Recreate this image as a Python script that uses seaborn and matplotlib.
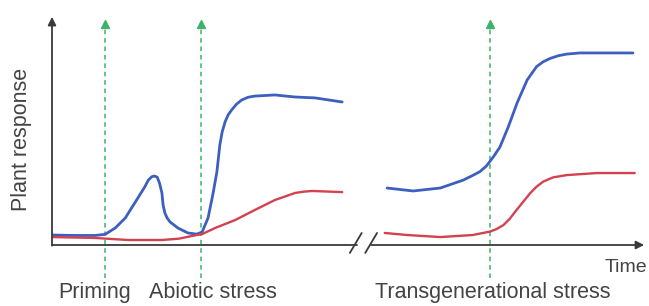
import matplotlib
matplotlib.use('Agg')
import matplotlib.pyplot as plt
import seaborn as sns
import pandas as pd

# Stage 1: priming + abiotic stress (time 0-50)
t1_blue = [0, 3.9, 7.3, 9.0, 10.7, 12.4, 14.0, 15.7, 16.3, 16.9, 17.3, 17.8, 18.2, 18.6, 18.8, 19.1, 19.5,
           20.0, 21.3, 23.0, 24.5, 25.4, 26.4, 27.2, 27.9, 28.4, 28.8, 29.3, 29.8, 30.4, 31.2, 32.1, 33.2,
           34.3, 37.7, 41.1, 44.5, 49.1]
r1_blue = [0.44, 0.42, 0.42, 0.47, 0.75, 1.19, 1.85, 2.56, 2.86, 3.01, 3.04, 2.99, 2.72, 2.29, 1.76, 1.41, 1.18,
           1.01, 0.75, 0.53, 0.48, 0.57, 1.19, 2.20, 3.22, 4.41, 4.99, 5.43, 5.73, 5.95, 6.20, 6.39, 6.51,
           6.56, 6.61, 6.52, 6.48, 6.30]
t1_red = [0, 7.3, 12.9, 18.6, 21.5, 23.7, 25.4, 27.6, 31.0, 34.3, 37.7, 41.1, 42.6, 44.0, 49.1]
r1_red = [0.35, 0.31, 0.22, 0.22, 0.28, 0.40, 0.48, 0.75, 1.10, 1.54, 1.98, 2.29, 2.35, 2.38, 2.33]

# Stage 2: transgenerational stress (time 56-99)
t2_blue = [56.7, 61.1, 65.7, 69.6, 71.3, 72.4, 73.5, 74.7, 75.8, 77.2, 78.7, 80.4, 82.0, 83.1, 84.3, 85.7,
           87.1, 89.3, 92.2, 98.3]
r2_blue = [2.51, 2.38, 2.51, 2.86, 3.08, 3.23, 3.48, 3.89, 4.32, 5.20, 6.26, 7.27, 7.86, 8.07, 8.22, 8.34,
           8.41, 8.46, 8.46, 8.46]
t2_red = [56.3, 60.1, 65.7, 71.2, 74.1, 75.2, 76.4, 77.5, 78.6, 80.9, 82.0, 83.1, 84.8, 87.1, 92.2, 98.6]
r2_red = [0.53, 0.44, 0.35, 0.44, 0.59, 0.70, 0.88, 1.17, 1.54, 2.28, 2.57, 2.79, 2.98, 3.08, 3.17, 3.17]

# stress events
event_times = [9.0, 25.2, 74.1]

BLUE = '#3d5fbf'
RED = '#d2424f'
GREEN = '#3cb36b'
DARK = '#3a3a3a'
TEXT = '#444444'


def main():
    sns.set_theme(style='white')
    plt.rcParams['font.family'] = ['Liberation Sans', 'DejaVu Sans']

    fig = plt.figure(figsize=(6.49, 3.06), dpi=100)
    ax = fig.add_axes([52 / 649, 61 / 306, 591 / 649, 227 / 306])
    ax.set_xlim(0, 100)
    ax.set_ylim(0, 10)
    ax.axis('off')

    curves = [
        (t1_blue, r1_blue, BLUE, 2.0),
        (t1_red, r1_red, RED, 1.7),
        (t2_blue, r2_blue, BLUE, 2.0),
        (t2_red, r2_red, RED, 1.7),
    ]
    for t, r, c, lw in curves:
        df = pd.DataFrame({'time': t, 'response': r})
        sns.lineplot(data=df, x='time', y='response', color=c, lw=lw,
                     estimator=None, ax=ax, solid_capstyle='round',
                     solid_joinstyle='round')

    # stress arrows
    for t in event_times:
        ax.plot([t, t], [-1.45, 9.7], color=GREEN, lw=1.1, ls=(0, (3, 2.5)),
                clip_on=False, zorder=1)
        ax.plot([t], [9.75], marker='^', color=GREEN, ms=6, clip_on=False,
                zorder=1)

    # axes with arrows
    ax.annotate('', xy=(0, 10.05), xytext=(0, -0.03),
                arrowprops=dict(arrowstyle='-|>', color=DARK, lw=1.3,
                                mutation_scale=12, shrinkA=0, shrinkB=0),
                annotation_clip=False)
    ax.plot([0, 51.6], [0, 0], color=DARK, lw=1.3, clip_on=False)
    ax.annotate('', xy=(100.2, 0), xytext=(54.0, 0),
                arrowprops=dict(arrowstyle='-|>', color=DARK, lw=1.3,
                                mutation_scale=12, shrinkA=0, shrinkB=0),
                annotation_clip=False)
    # axis break
    for x0 in (50.4, 53.0):
        ax.plot([x0, x0 + 2.0], [-0.35, 0.53], color=DARK, lw=1.3,
                clip_on=False)

    fig.text(22 / 649, 1 - 139 / 306, 'Plant response', rotation=90,
             ha='center', va='center', fontsize=15.5, color=TEXT)
    fig.text(647 / 649, 1 - 272 / 306, 'Time', ha='right', va='baseline',
             fontsize=14, color=TEXT)
    fig.text(95 / 649, 1 - 298 / 306, 'Priming', ha='center', va='baseline',
             fontsize=15.5, color=TEXT)
    fig.text(213 / 649, 1 - 298 / 306, 'Abiotic stress', ha='center',
             va='baseline', fontsize=15.5, color=TEXT)
    fig.text(493 / 649, 1 - 298 / 306, 'Transgenerational stress',
             ha='center', va='baseline', fontsize=15.5, color=TEXT)

    fig.savefig('out.png', dpi=100)


if __name__ == "__main__":
    main()
